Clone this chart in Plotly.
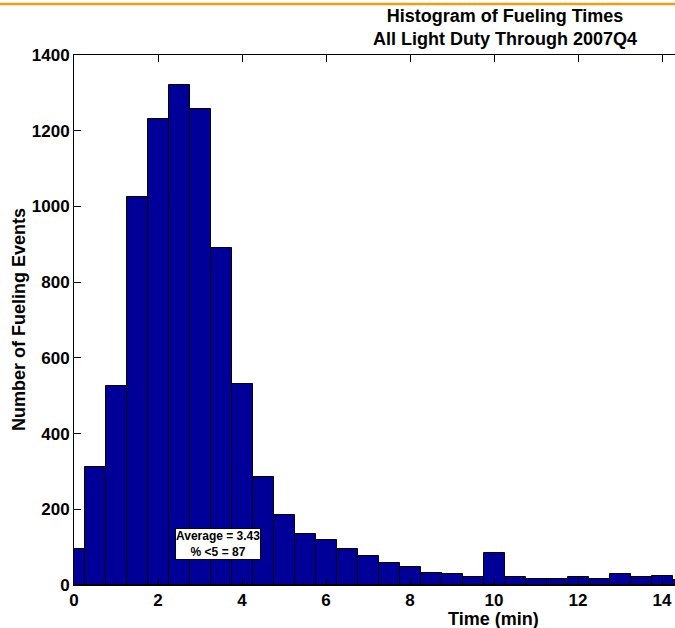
import plotly.graph_objects as go

# Bin centers (minutes) and counts
bin_centers = [0.0, 0.5, 1.0, 1.5, 2.0, 2.5, 3.0, 3.5, 4.0, 4.5, 5.0, 5.5, 6.0, 6.5,
               7.0, 7.5, 8.0, 8.5, 9.0, 9.5, 10.0, 10.5, 11.0, 11.5, 12.0, 12.5,
               13.0, 13.5, 14.0, 14.5]
counts = [95, 312, 526, 1025, 1232, 1320, 1258, 891, 531, 285, 186, 136, 118, 94,
          76, 57, 48, 31, 29, 22, 85, 20, 16, 15, 20, 15, 29, 22, 24, 13]
x_ticks = [0, 2, 4, 6, 8, 10, 12, 14]
y_ticks = [0, 200, 400, 600, 800, 1000, 1200, 1400]

title_lines = ["Histogram of Fueling Times", "All Light Duty Through 2007Q4"]
stats_text = "Average = 3.43<br>% &lt;5 = 87"

W, H = 675, 628
L, R, T, B = 74, 0, 55, 43
pw = W - L - R
ph = H - T - B

def px_to_paper_x(px):
    return (px - L) / pw

def px_to_paper_y(py):
    return (H - B - py) / ph

FONT = "Arial, 'Liberation Sans', sans-serif"

fig = go.Figure()
fig.add_trace(go.Bar(
    x=bin_centers, y=counts, width=0.5,
    marker=dict(color="#000099", line=dict(color="black", width=1)),
    showlegend=False,
))

fig.update_layout(
    width=W, height=H,
    margin=dict(l=L, r=R, t=T, b=B, pad=0),
    paper_bgcolor="white", plot_bgcolor="white",
    bargap=0,
    font=dict(family=FONT, color="black"),
    xaxis=dict(
        range=[0, (W - L) / 42.0],
        tickvals=x_ticks, ticktext=[f"<b>{v}</b>" for v in x_ticks],
        ticks="inside", ticklen=7, tickwidth=1, tickcolor="black",
        showline=True, linecolor="black", linewidth=1, mirror="ticks",
        showgrid=False, zeroline=False,
        tickfont=dict(size=17, family=FONT, color="black"),
    ),
    yaxis=dict(
        range=[0, 1400],
        tickvals=y_ticks, ticktext=[f"<b>{v}</b>" for v in y_ticks],
        ticks="inside", ticklen=7, tickwidth=1, tickcolor="black",
        showline=True, linecolor="black", linewidth=1, mirror=False,
        showgrid=False, zeroline=False,
        tickfont=dict(size=17, family=FONT, color="black"),
    ),
)

# Title
fig.add_annotation(
    xref="paper", yref="paper",
    x=px_to_paper_x(505), y=px_to_paper_y(27.5),
    text="<b>" + title_lines[0] + "<br>" + title_lines[1] + "</b>",
    showarrow=False, xanchor="center", yanchor="middle", align="center",
    font=dict(size=18, family=FONT, color="black"),
)
# X axis title
fig.add_annotation(
    xref="paper", yref="paper",
    x=px_to_paper_x(493), y=px_to_paper_y(619),
    text="<b>Time (min)</b>", showarrow=False,
    xanchor="center", yanchor="middle",
    font=dict(size=18, family=FONT, color="black"),
)
# Y axis title
fig.add_annotation(
    xref="paper", yref="paper",
    x=px_to_paper_x(19), y=0.5,
    text="<b>Number of Fueling Events</b>", showarrow=False,
    textangle=-90, xanchor="center", yanchor="middle",
    font=dict(size=18, family=FONT, color="black"),
)
# Stats box
fig.add_annotation(
    xref="x", yref="y",
    x=3.43, y=108,
    text="<b>" + stats_text + "</b>", showarrow=False,
    xanchor="center", yanchor="middle", align="center",
    bgcolor="white", bordercolor="black", borderwidth=1, borderpad=0,
    font=dict(size=12, family=FONT, color="black"),
)
# Orange top rule
fig.add_shape(
    type="line", xref="paper", yref="paper",
    x0=px_to_paper_x(0), x1=px_to_paper_x(W),
    y0=px_to_paper_y(4), y1=px_to_paper_y(4),
    line=dict(color="#F39C12", width=2.5),
)

fig.write_html(
    "out.html",
    config={"displayModeBar": False},
    post_script="document.body.style.margin='0';document.body.style.padding='0';",
)
